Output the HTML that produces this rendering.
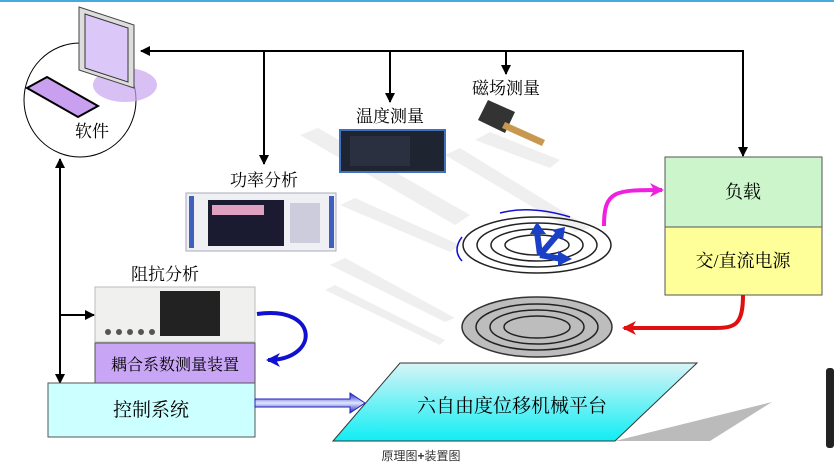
<!DOCTYPE html>
<html><head><meta charset="utf-8"><style>
html,body{margin:0;padding:0;background:#fff;}
svg{display:block;font-family:"Liberation Serif","Noto Serif CJK SC",serif;}
.s{font-family:"Liberation Sans","Noto Sans CJK SC",sans-serif;}
</style></head><body>
<svg width="834" height="467" viewBox="0 0 834 467" xmlns="http://www.w3.org/2000/svg">
<defs>
<marker id="a" markerWidth="10" markerHeight="10" refX="9" refY="5" orient="auto" markerUnits="userSpaceOnUse"><path d="M0,0 L10,5 L0,10 Z" fill="#000"/></marker>
<marker id="ab" markerWidth="14" markerHeight="14" refX="12" refY="7" orient="auto" markerUnits="userSpaceOnUse"><path d="M0,0 L14,7 L0,14 L4,7Z" fill="#1010d0"/></marker>
<marker id="am" markerWidth="14" markerHeight="14" refX="12" refY="7" orient="auto" markerUnits="userSpaceOnUse"><path d="M0,0 L14,7 L0,14 L4,7Z" fill="#f020e0"/></marker>
<marker id="ar" markerWidth="14" markerHeight="14" refX="12" refY="7" orient="auto" markerUnits="userSpaceOnUse"><path d="M0,0 L14,7 L0,14 L4,7Z" fill="#e01010"/></marker>
<linearGradient id="pg" x1="0" y1="0" x2="0" y2="1"><stop offset="0" stop-color="#d8f4f6"/><stop offset="1" stop-color="#10eef4"/></linearGradient>
<linearGradient id="bg" x1="0" y1="0" x2="0" y2="1"><stop offset="0" stop-color="#2020c0"/><stop offset=".5" stop-color="#e0e8ff"/><stop offset="1" stop-color="#2020c0"/></linearGradient>
</defs>
<rect x="0" y="0" width="834" height="2" fill="#4aa8e0"/>
<!-- light beams -->
<g fill="#efefef">
<polygon points="300,135 318,128 470,215 455,225"/>
<polygon points="340,205 355,198 460,245 450,252"/>
<polygon points="330,265 345,258 455,318 445,322"/>
<polygon points="325,290 335,285 445,340 440,345"/>
<polygon points="445,155 460,148 590,228 575,232"/>
<polygon points="475,140 490,132 560,160 550,168"/>
</g>
<!-- computer -->
<ellipse cx="80" cy="100" rx="56" ry="57" fill="#fff" stroke="#000" stroke-width="1"/>
<ellipse cx="125" cy="85" rx="32" ry="17" fill="#c9a5f0" opacity=".7"/>
<polygon points="79,7 134,25 134,88 79,70" fill="#ddd" stroke="#444"/>
<polygon points="85,14 128,28 128,82 85,68" fill="#dcc8f8" stroke="#333"/>
<polygon points="27,88 47,77 98,106 78,117" fill="#c9a0f0" stroke="#000" stroke-width="2"/>
<text x="92" y="137" font-size="17" text-anchor="middle">软件</text>
<!-- lines -->
<g stroke="#000" stroke-width="2" fill="none">
<line x1="743" y1="51" x2="141" y2="51" marker-end="url(#a)"/>
<line x1="743" y1="50" x2="743" y2="156" marker-end="url(#a)"/>
<line x1="264" y1="51" x2="264" y2="164" marker-end="url(#a)"/>
<line x1="390" y1="51" x2="390" y2="102" marker-end="url(#a)"/>
<line x1="506" y1="51" x2="506" y2="74" marker-end="url(#a)"/>
<line x1="60" y1="383" x2="60" y2="159" marker-end="url(#a)"/>
<line x1="60" y1="160" x2="60" y2="383" marker-end="url(#a)"/>
<line x1="60" y1="315" x2="94" y2="315" marker-end="url(#a)"/>
</g>
<!-- power analyzer -->
<text x="264" y="186" font-size="17" text-anchor="middle">功率分析</text>
<rect x="186" y="193" width="150" height="58" fill="#eef0f4" stroke="#aab"/>
<rect x="189" y="196" width="5" height="52" fill="#4060c0"/>
<rect x="329" y="196" width="5" height="52" fill="#4060c0"/>
<rect x="208" y="200" width="76" height="46" fill="#1a1a30"/>
<rect x="212" y="205" width="52" height="10" fill="#e0a0c0"/>
<rect x="290" y="203" width="30" height="40" fill="#ccd"/>
<!-- temp -->
<text x="390" y="122" font-size="17" text-anchor="middle">温度测量</text>
<rect x="340" y="130" width="105" height="42" fill="#1e2430" stroke="#4070c0" stroke-width="2"/>
<rect x="350" y="136" width="60" height="30" fill="#2a3040"/>
<!-- magnetic -->
<text x="506" y="94" font-size="17" text-anchor="middle">磁场测量</text>
<polygon points="478,120 488,100 515,112 505,133" fill="#333"/>
<polygon points="505,122 545,140 542,146 502,128" fill="#c89850"/>
<!-- impedance -->
<text x="165" y="280" font-size="17" text-anchor="middle">阻抗分析</text>
<rect x="95" y="287" width="160" height="55" fill="#f0f0ee" stroke="#bbb"/>
<rect x="160" y="291" width="60" height="45" fill="#222"/>
<g fill="#555"><circle cx="108" cy="332" r="3"/><circle cx="119" cy="332" r="3"/><circle cx="130" cy="332" r="3"/><circle cx="141" cy="332" r="3"/><circle cx="152" cy="332" r="3"/></g>
<path d="M257,314 C320,305 320,360 268,360" stroke="#1010d0" stroke-width="4" fill="none" marker-end="url(#ab)"/>
<rect x="95" y="343" width="160" height="40" fill="#c9a5f5" stroke="#555"/>
<text x="175" y="370" font-size="16" text-anchor="middle">耦合系数测量装置</text>
<rect x="48" y="383" width="207" height="54" fill="#ccffff" stroke="#555"/>
<text x="151" y="416" font-size="19" text-anchor="middle">控制系统</text>
<polygon points="255,399 350,399 350,393 365,403 350,413 350,407 255,407" fill="url(#bg)" stroke="#2020c0"/>
<!-- platform -->
<polygon points="615,441 772,402 710,441" fill="#bbb"/>
<polygon points="400,363 697,363 615,441 333,441" fill="url(#pg)" stroke="#333"/>
<text x="512" y="412" font-size="19" text-anchor="middle">六自由度位移机械平台</text>
<text x="421" y="460" font-size="12" class="s" text-anchor="middle" fill="#333">原理图<tspan font-weight="bold">+</tspan>装置图</text>
<!-- load / source -->
<rect x="665" y="157" width="157" height="70" fill="#ccf5cc" stroke="#555"/>
<rect x="665" y="227" width="157" height="68" fill="#ffff99" stroke="#555"/>
<text x="743" y="198" font-size="18" text-anchor="middle">负载</text>
<text x="743" y="267" font-size="18" text-anchor="middle">交/直流电源</text>
<!-- coils upper -->
<g fill="none" stroke="#222" stroke-width="1.5">
<ellipse cx="537" cy="245" rx="74" ry="28"/>
<ellipse cx="537" cy="245" rx="60" ry="22"/>
<ellipse cx="537" cy="245" rx="46" ry="16"/>
<ellipse cx="537" cy="245" rx="32" ry="10"/>
</g>
<path d="M500,213 Q530,205 570,217" stroke="#1010d0" fill="none" stroke-width="1.5"/>
<path d="M462,237 Q452,250 462,261" stroke="#1010d0" fill="none" stroke-width="1.5"/>
<g stroke="#1a40c8" stroke-width="6" fill="#1a40c8">
<line x1="540" y1="255" x2="537" y2="232"/><line x1="540" y1="255" x2="558" y2="234"/><line x1="540" y1="255" x2="562" y2="259"/>
</g>
<polygon points="530,234 537,222 546,234" fill="#1a40c8"/>
<polygon points="552,230 565,227 563,240" fill="#1a40c8"/>
<polygon points="558,251 572,259 558,266" fill="#1a40c8"/>
<path d="M604,226 C604,190 615,190 662,190" stroke="#f020e0" stroke-width="4" fill="none" marker-end="url(#am)"/>
<!-- coils lower -->
<ellipse cx="537" cy="327" rx="75" ry="30" fill="#bdbdbd" stroke="#333" stroke-width="1.5"/>
<g fill="none" stroke="#222" stroke-width="1.5">
<ellipse cx="537" cy="327" rx="61" ry="23"/>
<ellipse cx="537" cy="327" rx="47" ry="17"/>
<ellipse cx="537" cy="327" rx="33" ry="11"/>
</g>
<path d="M743,295 C743,325 735,328 715,328 L624,328" stroke="#e01010" stroke-width="4" fill="none" marker-end="url(#ar)"/>
<rect x="826" y="368" width="8" height="80" fill="#222" rx="3"/>
</svg>
</body></html>
